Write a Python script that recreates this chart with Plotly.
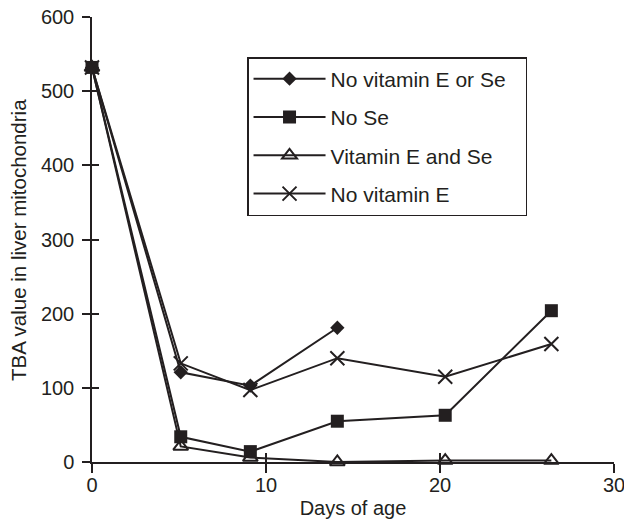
import plotly.graph_objects as go

# Days of age at which samples were taken
days = [0, 5.1, 9.1, 14.1, 20.3, 26.4]

# TBA values in liver mitochondria for each diet group
no_e_or_se = [532, 121, 103, 181]
no_se = [532, 34, 14, 55, 63, 204]
e_and_se = [532, 21, 6, 0, 2, 2]
no_e = [532, 133, 97, 140, 115, 159]

x_ticks = [0, 10, 20, 30]
y_ticks = [0, 100, 200, 300, 400, 500, 600]

INK = "#231f20"
FONT = "Liberation Sans, Arial, Helvetica, sans-serif"
PAD_R = "\u2002\u2009"  # right padding inside the legend box

fig = go.Figure()

series = [
    ("No vitamin E or Se" + PAD_R, days[:len(no_e_or_se)], no_e_or_se,
     dict(symbol="diamond", size=11, color=INK)),
    ("No Se", days, no_se,
     dict(symbol="square", size=13, color=INK)),
    ("Vitamin E and Se", days, e_and_se,
     dict(symbol="triangle-up-open", size=13, color=INK, line=dict(width=2, color=INK))),
    ("No vitamin E", days, no_e,
     dict(symbol="x-thin-open", size=14, color=INK, line=dict(width=2, color=INK))),
]

for i, (name, xs, ys, mk) in enumerate(series):
    fig.add_trace(go.Scatter(
        x=xs, y=ys, name=name, mode="lines+markers",
        line=dict(color=INK, width=2),
        marker=mk, cliponaxis=False, legendgroup=f"g{i}",
    ))

axis_common = dict(
    showgrid=False, zeroline=False, showline=True, linecolor=INK, linewidth=1.5,
    tickcolor=INK, tickwidth=1.5, ticklabeloverflow="allow", automargin=False,
    tickfont=dict(family=FONT, size=20, color=INK),
)

fig.update_layout(
    width=624, height=523,
    margin=dict(l=92, r=10, t=17, b=61, autoexpand=False),
    paper_bgcolor="white", plot_bgcolor="white",
    font=dict(family=FONT, color=INK),
    xaxis=dict(range=[0, 30], tickvals=x_ticks, ticks="outside", ticklen=9,
               ticklabelstandoff=-5,
               title=dict(text="Days of age", font=dict(family=FONT, size=20, color=INK), standoff=6),
               **axis_common),
    yaxis=dict(range=[0, 600], tickvals=y_ticks, ticks="outside", ticklen=8,
               ticklabelstandoff=4, **axis_common),
    # mirrored tick marks on the inside so ticks cross the axis lines
    xaxis2=dict(range=[0, 30], tickvals=x_ticks, ticks="inside", ticklen=9,
                overlaying="x", side="bottom", showticklabels=False, anchor="y",
                showgrid=False, zeroline=False, tickcolor=INK, tickwidth=1.5, showline=False),
    yaxis2=dict(range=[0, 600], tickvals=y_ticks, ticks="inside", ticklen=7,
                overlaying="y", side="left", showticklabels=False, anchor="x",
                showgrid=False, zeroline=False, tickcolor=INK, tickwidth=1.5, showline=False),
    showlegend=True,
    legend=dict(
        x=0.297, y=0.91, xanchor="left", yanchor="top",
        bordercolor=INK, borderwidth=1.5, bgcolor="white",
        font=dict(family=FONT, size=21, color=INK),
        traceorder="grouped", tracegroupgap=8, itemwidth=72,
    ),
    annotations=[dict(
        text="TBA value in liver mitochondria", textangle=-90,
        xref="paper", yref="paper", x=-0.141, y=0.5,
        xanchor="center", yanchor="middle", showarrow=False,
        font=dict(family=FONT, size=20.5, color=INK),
    )],
)

# invisible trace that activates the secondary axes carrying the inner ticks
fig.add_trace(go.Scatter(x=[0], y=[0], xaxis="x2", yaxis="y2", mode="markers",
                         marker=dict(opacity=0), showlegend=False, hoverinfo="skip"))

fig.write_html("out.html")
